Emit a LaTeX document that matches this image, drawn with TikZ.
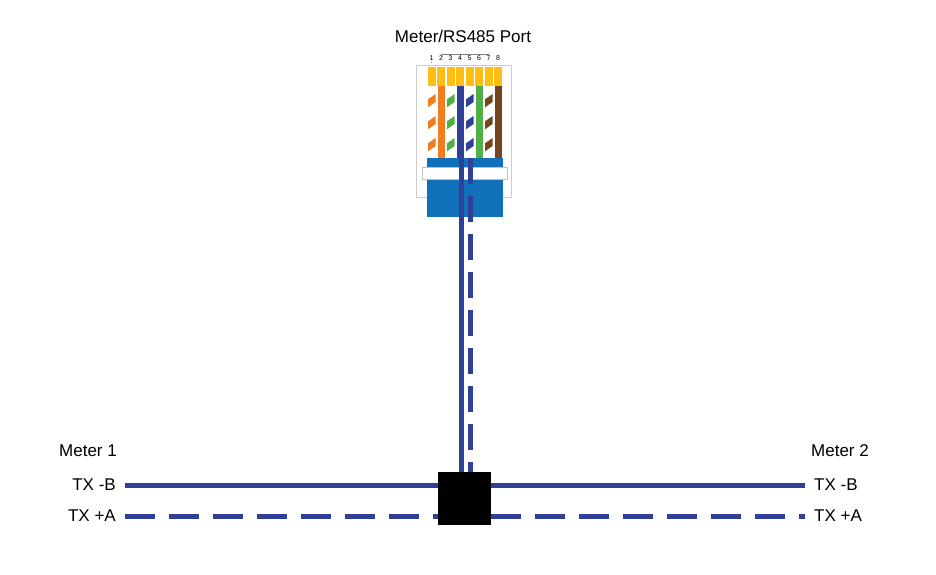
\documentclass[tikz,border=0pt]{standalone}
\usepackage{fontspec}
\setmainfont{Liberation Sans}
\usetikzlibrary{positioning}
\definecolor{cable}{RGB}{46,64,152}
\definecolor{plug}{RGB}{16,112,186}
\definecolor{gold}{RGB}{255,190,20}
\definecolor{wor}{RGB}{240,125,30}
\definecolor{wgr}{RGB}{80,175,70}
\definecolor{wbr}{RGB}{115,70,30}
\tikzset{
  wire/.style={line width=5pt, cable},
  dashwire/.style={wire, dash pattern=on 30pt off 14pt},
  vdashwire/.style={wire, dash pattern=on 26pt off 12pt},
  lbl/.style={font=\fontsize{17}{20}\selectfont, inner sep=0pt},
  pinnum/.style={font=\fontsize{7}{8}\selectfont, inner sep=0pt}
}
\begin{document}
\begin{tikzpicture}[x=1pt,y=-1pt]
    \useasboundingbox (0,0) rectangle (936,574);
    %plug outline
    \draw[gray!40, line width=0.8pt] (416,65) rectangle (511,197);
    %pins and wires
    \foreach \i/\c/\s in {1/wor/1,2/wor/0,3/wgr/1,4/cable/0,5/cable/1,6/wgr/0,7/wbr/1,8/wbr/0}{
        \pgfmathsetmacro{\px}{427+9.5*(\i-1)}
        \fill[gold] (\px+0.7,67) rectangle ++(8,19);
        \node[pinnum] (n\i) at (\px+4.5,58) {\i};
        \ifnum\s=1
            \fill[white] (\px+1,86) rectangle ++(7.5,72);
            \begin{scope}
                \clip (\px+1,86) rectangle ++(7.5,72);
                \foreach \k in {0,1,2} \fill[\c] (\px,100+\k*22) -- ++(10,-7) -- ++(0,8) -- ++(-10,7) -- cycle;
            \end{scope}
        \else
            \fill[\c] (\px+1,86) rectangle ++(7.5,72);
        \fi
    }
    \draw[gray, line width=0.6pt] (n2.north) ++(0,2) -- ++(0,-3) -| ([yshift=-1pt]n7.north) ++(0,0);
    \draw[gray, line width=0.6pt] (431.5,63) -- (431.5,62) (422.5,62) -- (422.5,62);
    %plug body
    \fill[plug] (427,158) rectangle (503,217);
    \fill[white] (422,167) rectangle (507,179);
    \draw[gray!50, line width=0.5pt] (422,167) rectangle (507,179);
    %junction
    \node[fill=black, minimum size=53pt, inner sep=0pt] (box) at (464.5,498.5) {};
    \coordinate (p4) at (461,86);
    \coordinate (p5) at (470.5,158);
    %cables
    \draw[wire] (p4) -- (p4 |- box.north);
    \draw[vdashwire] (p5) -- (p5 |- box.north);
    \coordinate (lb) at (125,485);
    \coordinate (la) at (125,516);
    \coordinate (rb) at (805,485);
    \coordinate (ra) at (805,516);
    \draw[wire] (lb) -- (lb -| box.west);
    \draw[dashwire] (la) -- (la -| box.west);
    \draw[wire] (box.east |- rb) -- (rb);
    \draw[dashwire] (box.east |- ra) -- (ra);
    %labels
    \node[lbl] (title) at (463,36) {Meter/RS485 Port};
    \node[lbl, left=9pt of lb] (tb1) {TX -B};
    \node[lbl, left=9pt of la] (ta1) {TX +A};
    \node[lbl] (m1) at (88,451) {Meter 1};
    \node[lbl, right=9pt of rb] (tb2) {TX -B};
    \node[lbl, right=9pt of ra] (ta2) {TX +A};
    \node[lbl] (m2) at (840,451) {Meter 2};
\end{tikzpicture}
\end{document}
